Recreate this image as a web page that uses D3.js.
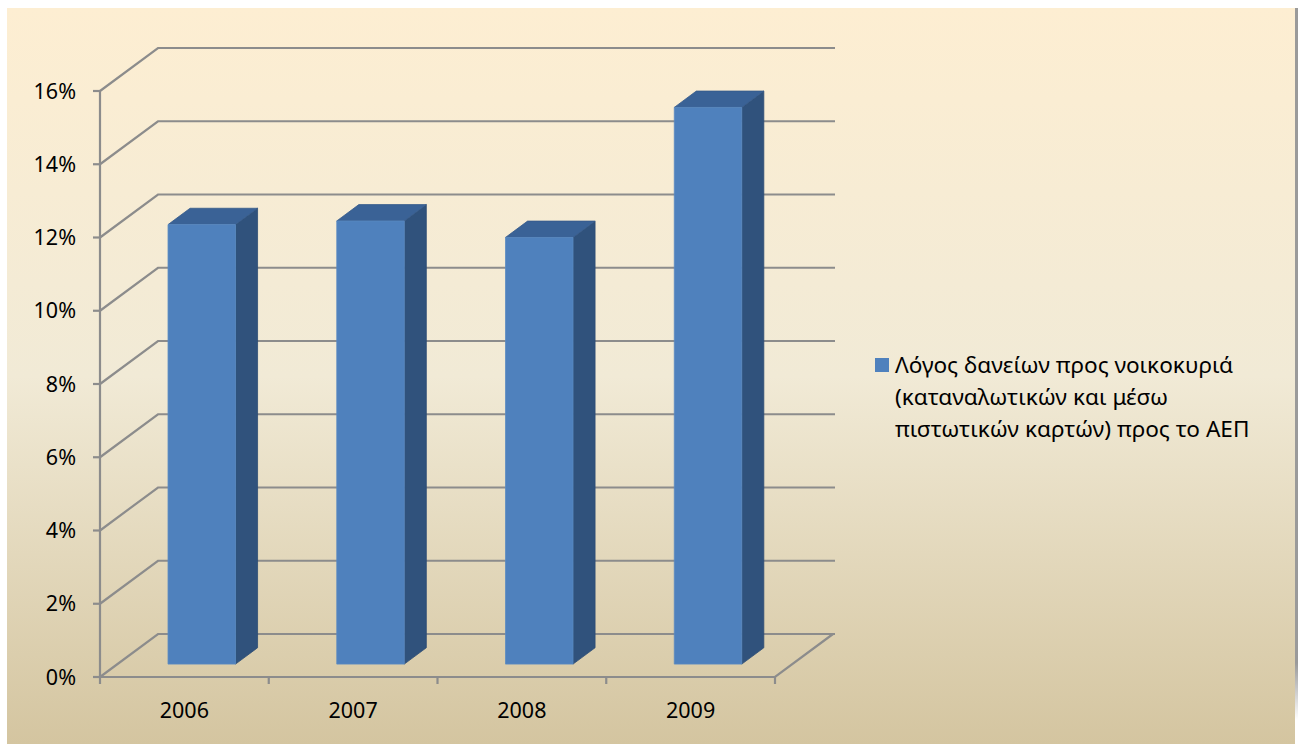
<!DOCTYPE html>
<html>
<head>
<meta charset="utf-8">
<script src="https://cdn.jsdelivr.net/npm/d3@7"></script>
<style>
  html, body { margin: 0; padding: 0; background: #ffffff; }
  svg { display: block; }
  text { font-family: "Noto Sans", "DejaVu Sans", sans-serif; fill: #000; }
</style>
</head>
<body>
<svg id="chart" width="1298" height="744"></svg>
<script>
// Household loans (consumer and credit card) as a share of GDP
const years = ["2006", "2007", "2008", "2009"];
const ratioValues = [12.0, 12.1, 11.65, 15.2];
const yTicks = [0, 2, 4, 6, 8, 10, 12, 14, 16];
const legendLines = [
  "Λόγος δανείων προς νοικοκυριά",
  "(καταναλωτικών και μέσω",
  "πιστωτικών καρτών) προς το ΑΕΠ"
];

const svg = d3.select("#chart");
const W = 1298, H = 744;

// background panel with a warm vertical gradient
const defs = svg.append("defs");
const bg = defs.append("linearGradient").attr("id", "bg").attr("x1", 0).attr("y1", 0).attr("x2", 0).attr("y2", 1);
bg.append("stop").attr("offset", "0%").attr("stop-color", "#fdeed2");
bg.append("stop").attr("offset", "50%").attr("stop-color", "#f1ead6");
bg.append("stop").attr("offset", "100%").attr("stop-color", "#d4c5a0");
const edge = defs.append("linearGradient").attr("id", "edge").attr("x1", 0).attr("y1", 0).attr("x2", 0).attr("y2", 1);
edge.append("stop").attr("offset", "0%").attr("stop-color", "#9a9a9a");
edge.append("stop").attr("offset", "92%").attr("stop-color", "#9a9a9a");
edge.append("stop").attr("offset", "100%").attr("stop-color", "#9a9a9a").attr("stop-opacity", 0);

svg.append("rect").attr("x", 7).attr("y", 8).attr("width", 1288).attr("height", H - 8).attr("fill", "url(#bg)");
svg.append("rect").attr("x", 1295).attr("y", 8).attr("width", 3).attr("height", 712).attr("fill", "url(#edge)");

// plot geometry: front plane plus an oblique depth offset
const x0 = 100, x1 = 775, yBottom = 677, yTop = 91;
const depthX = 58, depthY = -43;

const x = d3.scaleBand().domain(years).range([x0, x1]).paddingInner(0.6).paddingOuter(0.3);
const y = d3.scaleLinear().domain([0, 16]).range([yBottom, yTop]);

// project a point at (px, value) pushed back by depth fraction d
const P = (px, v, d) => [px + depthX * d, y(v) + depthY * d];

const gridColor = "#8c8c8c";
const grid = svg.append("g").attr("fill", "none").attr("stroke", gridColor).attr("stroke-width", 2.2);

// gridlines: diagonal on the side wall, then along the back wall
yTicks.forEach(t => {
  const a = P(x0, t, 0), b = P(x0, t, 1), c = P(x1, t, 1);
  grid.append("path").attr("d", d3.line()([a, b, [c[0] + 2, c[1]]]));
});
// floor outline
grid.append("path").attr("d", d3.line()([P(x1, 0, 1), P(x1, 0, 0), P(x0, 0, 0)]));
// value axis
grid.append("line").attr("x1", x0).attr("x2", x0).attr("y1", y(16)).attr("y2", y(0));
yTicks.forEach(t => {
  grid.append("line").attr("x1", x0 - 7).attr("x2", x0).attr("y1", y(t)).attr("y2", y(t));
});
// category ticks below the floor edge
const catEdges = years.map(c => x(c) - x.step() * x.paddingInner() / 2).concat([x1]);
catEdges.forEach(ex => {
  grid.append("line").attr("x1", ex).attr("x2", ex).attr("y1", yBottom).attr("y2", yBottom + 7);
});

// tick labels
svg.append("g").selectAll("text").data(yTicks).join("text")
  .attr("x", 76).attr("y", d => y(d)).attr("dy", "0.36em")
  .attr("text-anchor", "end").attr("font-size", 21.5)
  .text(d => d + "%");

svg.append("g").selectAll("text").data(years).join("text")
  .attr("x", d => x(d) + x.bandwidth() / 2).attr("y", 718)
  .attr("text-anchor", "middle").attr("font-size", 21.5)
  .text(d => d);

// 3D bars
const dFront = 0.3, dBack = 0.68;
const bars = svg.append("g");
years.forEach((c, i) => {
  const v = ratioValues[i];
  const L = x(c), R = x(c) + x.bandwidth();
  const fbl = P(L, 0, dFront), fbr = P(R, 0, dFront), ftl = P(L, v, dFront), ftr = P(R, v, dFront);
  const bbr = P(R, 0, dBack), btl = P(L, v, dBack), btr = P(R, v, dBack);
  // right side face
  bars.append("path").attr("d", d3.line()([fbr, bbr, btr, ftr]) + "Z")
    .attr("fill", "#30527c").attr("stroke", "#2d4d74").attr("stroke-width", 0.8);
  // top face
  bars.append("path").attr("d", d3.line()([ftl, btl, btr, ftr]) + "Z")
    .attr("fill", "#3a6296").attr("stroke", "#365b8a").attr("stroke-width", 0.8);
  // front face
  bars.append("path").attr("d", d3.line()([fbl, fbr, ftr, ftl]) + "Z")
    .attr("fill", "#4f81bd").attr("stroke", "#5b8ac2").attr("stroke-width", 0.8);
});

// legend
const lg = svg.append("g");
lg.append("rect").attr("x", 875).attr("y", 358).attr("width", 14).attr("height", 14).attr("fill", "#4f81bd");
lg.selectAll("text").data(legendLines).join("text")
  .attr("x", 895).attr("y", (d, i) => 373 + i * 32)
  .attr("font-size", 22.6)
  .text(d => d);
</script>
</body>
</html>
